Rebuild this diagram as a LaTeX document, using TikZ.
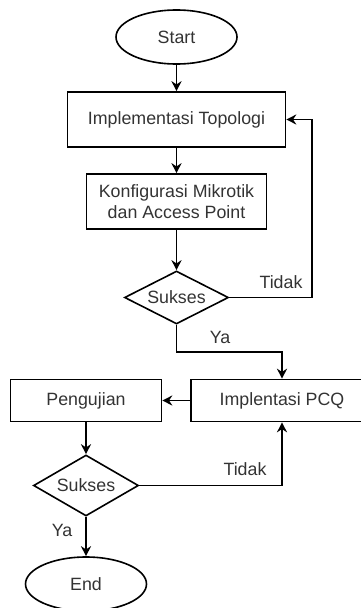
\documentclass[tikz,border=0pt]{standalone}
\usepackage{fontspec}
\setmainfont{Liberation Sans}
\usetikzlibrary{shapes.geometric,arrows.meta}
\begin{document}
\begin{tikzpicture}[x=1pt,y=-1pt,
  every node/.style={font=\fontsize{17.8}{21}\selectfont, text=black!80},
  term/.style={draw, ellipse, line width=1.6pt, minimum width=121pt, minimum height=54pt, inner sep=0pt},
  proc/.style={draw, rectangle, line width=1.6pt, align=center, inner sep=0pt},
  dec/.style={draw, diamond, line width=1.6pt, inner sep=0pt, aspect=1.9},
  conn/.style={line width=1.6pt, -{Stealth[length=10pt,width=10pt]}},
  lbl/.style={inner sep=0pt}]
\useasboundingbox (0,0) rectangle (361,608);
\clip (0,0) rectangle (361,608);
\node[term] (start) at (176.5,37) {Start};
\node[proc, minimum width=218pt, minimum height=55pt] (topo) at (176.5,119.5) {Implementasi Topologi};
\node[proc, minimum width=180pt, minimum height=55pt] (konf) at (176.5,201.5) {Konfigurasi Mikrotik\\dan Access Point};
\node[dec, minimum width=104pt, minimum height=53pt] (s1) at (176.5,297.5) {Sukses};
\node[proc, minimum width=182pt, minimum height=42pt] (pcq) at (282,400.5) {Implentasi PCQ};
\node[proc, minimum width=151pt, minimum height=42pt] (uji) at (86,400.5) {Pengujian};
\node[dec, minimum width=105pt, minimum height=61pt] (s2) at (86,485.5) {Sukses};
\node[term] (end) at (86,584) {End};
\coordinate (r1) at (312,297.5);
\coordinate (y1) at (176.5,352);
\draw[conn] (start) -- (topo);
\draw[conn] (topo) -- (konf);
\draw[conn] (konf) -- (s1);
\draw[conn] (s1.east) -- (r1) |- (topo.east);
\draw[conn] (s1.south) -- (y1) -| (pcq.north);
\draw[conn] (pcq.west) -- (uji.east);
\draw[conn] (uji) -- (s2);
\draw[conn] (s2.east) -| (pcq.south);
\draw[conn] (s2.south) -- (end.north);
\node[lbl] (t1) at (281,282) {Tidak};
\node[lbl] (ya1) at (220,337) {Ya};
\node[lbl] (t2) at (245,469) {Tidak};
\node[lbl] (ya2) at (62,530) {Ya};
\end{tikzpicture}
\end{document}
